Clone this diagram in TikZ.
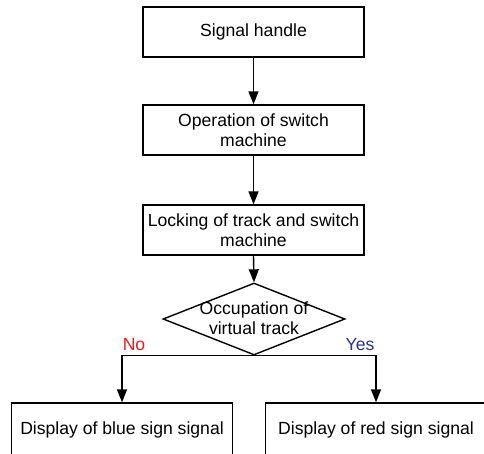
\documentclass[tikz,border=0pt]{standalone}
\usepackage{fontspec}
\setmainfont{Liberation Sans}
\usetikzlibrary{shapes.geometric,arrows.meta}
\definecolor{noRed}{RGB}{230,30,30}
\definecolor{yesBlue}{RGB}{40,50,150}
\tikzset{
  stepbox/.style={draw, line width=1.4pt, rectangle, minimum width=221pt, minimum height=50pt, inner sep=0pt, align=center, font=\fontsize{17.6}{20}\selectfont},
  arr/.style={line width=1.4pt, -{Triangle[length=13pt,width=10pt]}},
  lbl/.style={font=\fontsize{17.6}{20}\selectfont, inner sep=0pt}
}
\begin{document}
\begin{tikzpicture}[x=1pt,y=-1pt]
\useasboundingbox (0,0) rectangle (484,453);
\clip (0,0) rectangle (484,453);
\fill[white] (0,0) rectangle (484,453);
\node[stepbox] (b1) at (253.5,32) {Signal handle};
\node[stepbox] (b2) at (253.5,130) {Operation of switch\\machine};
\node[stepbox] (b3) at (253.5,230) {Locking of track and switch\\machine};
\node[draw, diamond, line width=1.4pt, minimum width=182pt, minimum height=72pt, inner sep=0pt] (d) at (254,319) {};
\node[lbl, align=center] (dt) at (254,318) {Occupation of\\virtual track};
\node[stepbox, minimum height=54pt] (b4) at (122,430) {Display of blue sign signal};
\node[stepbox, minimum height=54pt] (b5) at (376,430) {Display of red sign signal};
\draw[arr] (b1.south) -- (b2.north);
\draw[arr] (b2.south) -- (b3.north);
\draw[arr] (b3.south) -- (d.north);
\draw[arr] (d.south) -| (b4.north);
\draw[arr] (d.south) -| (b5.north);
\node[lbl, text=noRed] (no) at (134,345) {No};
\node[lbl, text=yesBlue] (yes) at (360,345) {Yes};
\end{tikzpicture}
\end{document}
